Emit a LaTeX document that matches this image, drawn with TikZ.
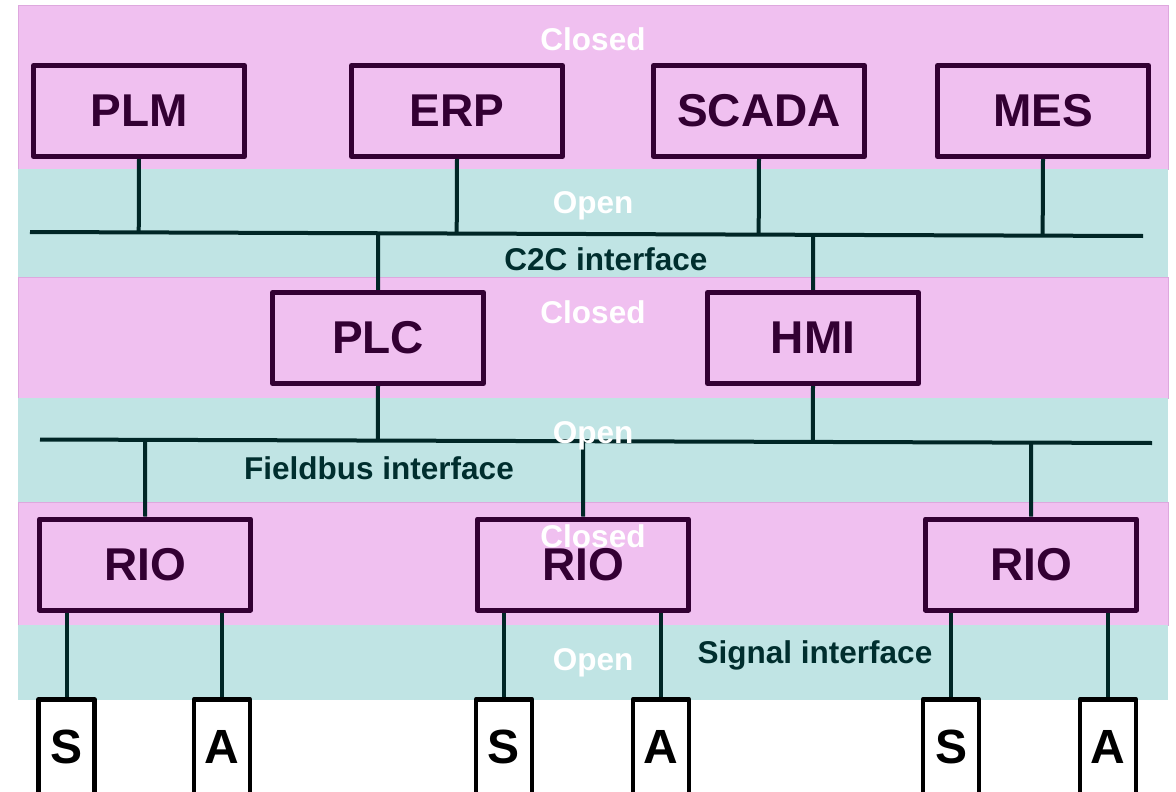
\documentclass[tikz,border=0pt]{standalone}
\usepackage{fontspec}
\setmainfont{Liberation Sans}
\usetikzlibrary{calc}

\definecolor{closedpink}{RGB}{240,192,240}
\definecolor{openteal}{RGB}{192,228,228}
\definecolor{bandedge}{RGB}{222,168,222}
\definecolor{boxpurple}{RGB}{51,0,51}
\definecolor{wirecol}{RGB}{0,38,38}
\definecolor{iftext}{RGB}{0,46,46}

\pgfdeclarelayer{bands}
\pgfdeclarelayer{wires}
\pgfsetlayers{bands,wires,main}

\tikzset{
  closedband/.style={fill=closedpink, draw=bandedge, line width=0.8pt},
  openband/.style={fill=openteal, draw=none},
  sysbox/.style={draw=boxpurple, line width=5pt, line join=round,
    text=boxpurple, font=\bfseries\fontsize{46}{50}\selectfont,
    inner sep=0pt, minimum width=211pt, minimum height=91pt},
  iobox/.style={draw=black, fill=white, line width=4.5pt, line join=round,
    text=black, font=\bfseries\fontsize{48}{52}\selectfont,
    text height=34.4pt, text depth=8pt,
    inner sep=0pt, minimum width=56pt, minimum height=101.5pt},
  wire/.style={draw=wirecol, line width=4pt},
  zonelabel/.style={text=white, font=\bfseries\fontsize{31.5}{34}\selectfont,
    anchor=base, inner sep=0pt},
  iflabel/.style={text=iftext, font=\bfseries\fontsize{31.5}{34}\selectfont,
    anchor=base, inner sep=0pt},
}

\begin{document}
\begin{tikzpicture}[x=1pt, y=-1pt]
\useasboundingbox (0,0) rectangle (1176,792);

% security zones
\begin{pgfonlayer}{bands}
\path[closedband] (18,5)   rectangle (1168,169);
\path[openband]   (18,169) rectangle (1168,277);
\path[closedband] (18,277) rectangle (1168,398);
\path[openband]   (18,398) rectangle (1168,502);
\path[closedband] (18,502) rectangle (1168,625);
\path[openband]   (18,625) rectangle (1168,700);
\end{pgfonlayer}

% enterprise level
\node[sysbox] (plm)   at (139,111) {PLM};
\node[sysbox] (erp)   at (457,111) {ERP};
\node[sysbox] (scada) at (759,111) {SCADA};
\node[sysbox] (mes)   at (1043,111) {MES};

% control level
\node[sysbox] (plc) at (378,338) {PLC};
\node[sysbox] (hmi) at (813,338) {HMI};

% remote I/O level
\node[sysbox] (rio1) at (145,564.5) {RIO};
\node[sysbox] (rio2) at (583,564.5) {RIO};
\node[sysbox] (rio3) at (1031,564.5) {RIO};

% sensors and actuators (they run past the lower edge)
\node[iobox] (s1) at (66.5,750) {S};
\node[iobox] (a1) at (222,750)  {A};
\node[iobox] (s2) at (504,750)  {S};
\node[iobox] (a2) at (661,750)  {A};
\node[iobox] (s3) at (951,750)  {S};
\node[iobox] (a3) at (1108,750) {A};

% bus end points
\coordinate (c2cL) at (30,232);
\coordinate (c2cR) at (1143,236);
\coordinate (fbL)  at (40,439.5);
\coordinate (fbR)  at (1152,443);

\begin{pgfonlayer}{wires}
% C2C bus
\draw[wire] (c2cL) -- (c2cR);
\foreach \n in {plm,erp,scada,mes}
  \draw[wire] (\n.south) -- ($(c2cL)!(\n.south)!(c2cR)$);
\foreach \n in {plc,hmi}
  \draw[wire] ($(c2cL)!(\n.north)!(c2cR)$) -- (\n.north);

% fieldbus
\draw[wire] (fbL) -- (fbR);
\foreach \n in {plc,hmi}
  \draw[wire] (\n.south) -- ($(fbL)!(\n.south)!(fbR)$);
\foreach \n in {rio1,rio2,rio3}
  \draw[wire] ($(fbL)!(\n.north)!(fbR)$) -- (\n.north);

% signal wiring
\draw[wire] (s1.north) -- (s1.north |- rio1.south);
\draw[wire] (a1.north) -- (a1.north |- rio1.south);
\draw[wire] (s2.north) -- (s2.north |- rio2.south);
\draw[wire] (a2.north) -- (a2.north |- rio2.south);
\draw[wire] (s3.north) -- (s3.north |- rio3.south);
\draw[wire] (a3.north) -- (a3.north |- rio3.south);
\end{pgfonlayer}

% interface labels
\node[iflabel] (c2clabel) at (606,270) {C2C interface};
\node[iflabel] (fblabel)  at (379,479) {Fieldbus interface};
\node[iflabel] (siglabel) at (815,663) {Signal interface};

% zone labels
\node[zonelabel] (zone1) at (593,51)  {Closed};
\node[zonelabel] (zone2) at (593,213) {Open};
\node[zonelabel] (zone3) at (593,323) {Closed};
\node[zonelabel] (zone4) at (593,443) {Open};
\node[zonelabel] (zone5) at (593,547) {Closed};
\node[zonelabel] (zone6) at (593,670) {Open};
\end{tikzpicture}
\end{document}
